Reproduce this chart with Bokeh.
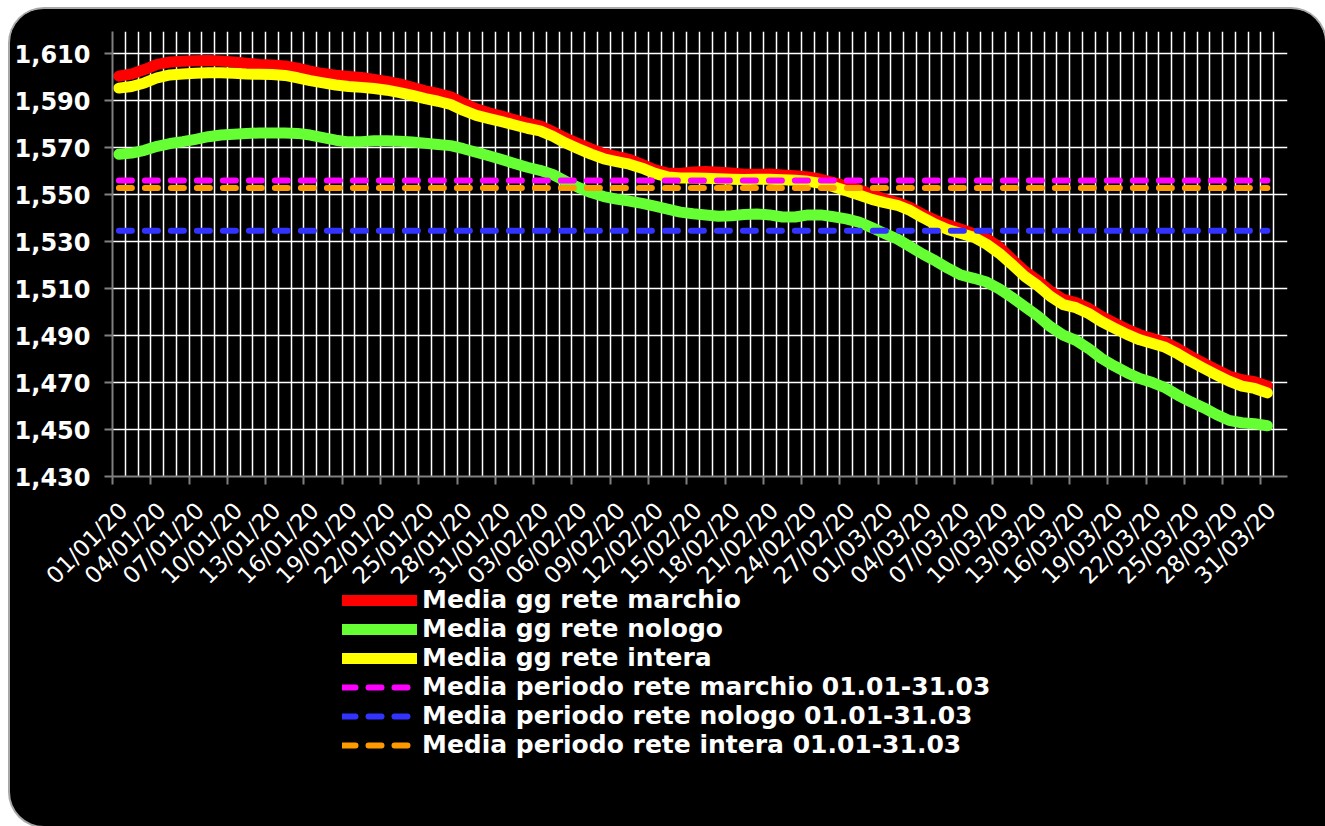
from math import pi
from bokeh.plotting import figure
from bokeh.layouts import column
from bokeh.models import (Range1d, FixedTicker, LinearAxis, NumeralTickFormatter,
                          Legend, LegendItem, Grid)
from bokeh.embed import file_html
from bokeh.resources import INLINE

# ---------------- data ----------------
days = list(range(91))  # 01/01/20 .. 31/03/20

marchio = [1600.5, 1601.4, 1603.3, 1605.5, 1606.5, 1606.8, 1607.0, 1607.1, 1606.9, 1606.5,
           1606.0, 1605.5, 1605.2, 1604.8, 1603.9, 1602.6, 1601.6, 1600.9, 1600.4, 1599.9,
           1599.1, 1598.2, 1597.2, 1595.7, 1594.2, 1593.1, 1591.7, 1589.0, 1586.6, 1584.9,
           1583.5, 1581.9, 1580.5, 1579.3, 1576.9, 1574.1, 1571.8, 1569.5, 1567.5, 1566.3,
           1565.1, 1562.9, 1560.6, 1559.2, 1559.0, 1559.7, 1559.9, 1559.6, 1559.2, 1558.7,
           1558.7, 1558.8, 1558.4, 1558.1, 1557.6, 1556.6, 1555.2, 1553.7, 1552.1, 1550.1,
           1548.1, 1546.7, 1544.6, 1541.6, 1539.1, 1537.1, 1535.3, 1533.4, 1531.3, 1527.7,
           1522.4, 1517.4, 1513.5, 1508.9, 1505.4, 1504.1, 1501.6, 1498.2, 1495.4, 1492.7,
           1490.4, 1488.8, 1487.2, 1484.4, 1481.2, 1478.3, 1475.5, 1472.8, 1471.2, 1470.4,
           1468.6]

nologo = [1567.2, 1567.7, 1568.9, 1570.6, 1571.8, 1572.6, 1573.6, 1574.7, 1575.4, 1575.7,
          1576.1, 1576.3, 1576.3, 1576.3, 1576.1, 1575.4, 1574.3, 1573.2, 1572.5, 1572.6,
          1573.0, 1573.0, 1572.8, 1572.4, 1571.9, 1571.4, 1570.9, 1569.6, 1568.1, 1566.6,
          1565.0, 1563.3, 1561.7, 1560.4, 1558.6, 1555.8, 1553.1, 1550.9, 1549.2, 1548.1,
          1547.3, 1546.3, 1545.1, 1543.9, 1542.6, 1541.9, 1541.4, 1540.8, 1541.0, 1541.6,
          1541.8, 1541.4, 1540.5, 1540.5, 1541.4, 1541.4, 1540.6, 1539.7, 1538.3, 1536.0,
          1533.5, 1531.1, 1527.9, 1524.7, 1521.8, 1518.6, 1515.8, 1514.4, 1512.8, 1509.9,
          1506.2, 1502.3, 1498.4, 1493.8, 1490.2, 1488.0, 1484.5, 1480.3, 1477.1, 1474.2,
          1471.7, 1470.0, 1467.8, 1464.6, 1461.8, 1459.3, 1456.4, 1453.9, 1452.9, 1452.5,
          1451.6]

intera = [1595.4, 1596.1, 1597.6, 1599.8, 1601.0, 1601.4, 1601.7, 1601.9, 1601.9, 1601.7,
          1601.4, 1601.3, 1601.2, 1600.8, 1599.8, 1598.6, 1597.6, 1596.7, 1596.1, 1595.7,
          1595.2, 1594.5, 1593.5, 1592.3, 1590.9, 1589.8, 1588.4, 1585.9, 1583.8, 1582.4,
          1581.1, 1579.7, 1578.3, 1577.2, 1574.9, 1572.0, 1569.6, 1567.3, 1565.3, 1564.1,
          1563.0, 1561.3, 1559.1, 1557.6, 1557.1, 1557.1, 1557.0, 1556.8, 1556.6, 1556.5,
          1556.6, 1556.6, 1556.4, 1556.2, 1555.7, 1554.8, 1553.4, 1551.7, 1549.9, 1548.0,
          1546.6, 1545.5, 1543.3, 1540.2, 1537.4, 1535.1, 1533.5, 1531.9, 1528.9, 1525.0,
          1520.2, 1515.2, 1511.3, 1506.7, 1503.2, 1501.9, 1499.4, 1496.0, 1493.2, 1490.5,
          1488.2, 1486.6, 1485.0, 1482.2, 1479.0, 1476.1, 1473.3, 1470.6, 1468.5, 1467.5,
          1465.6]

media_marchio = 1556.0
media_nologo = 1534.6
media_intera = 1552.9

tick_labels = ["01/01/20", "04/01/20", "07/01/20", "10/01/20", "13/01/20", "16/01/20",
               "19/01/20", "22/01/20", "25/01/20", "28/01/20", "31/01/20", "03/02/20",
               "06/02/20", "09/02/20", "12/02/20", "15/02/20", "18/02/20", "21/02/20",
               "24/02/20", "27/02/20", "01/03/20", "04/03/20", "07/03/20", "10/03/20",
               "13/03/20", "16/03/20", "19/03/20", "22/03/20", "25/03/20", "28/03/20",
               "31/03/20"]
label_days = [0, 3, 6, 9, 12, 15, 18, 21, 24, 27, 30, 33, 36, 39, 42, 45, 48, 51, 54, 57,
              60, 63, 66, 69, 72, 75, 78, 81, 84, 87, 90]
y_ticks = [1430, 1450, 1470, 1490, 1510, 1530, 1550, 1570, 1590, 1610]

names = ["Media gg rete marchio", "Media gg rete nologo", "Media gg rete intera",
         "Media periodo rete marchio 01.01-31.03", "Media periodo rete nologo 01.01-31.03",
         "Media periodo rete intera 01.01-31.03"]
colors = ["#FF0000", "#66FF33", "#FFFF00", "#FF00FF", "#3333FF", "#FF9900"]

FONT = "DejaVu Sans"
solid_kw = dict(line_width=11, line_cap="round", line_join="round")
dash_kw = dict(line_width=6, line_cap="round", line_dash="13 13")

# ---------------- main chart (fixed height: 22 top + 445 frame + 130 bottom) ----------------
p = figure(width=1315, height=597, output_backend="svg", toolbar_location=None,
           x_range=Range1d(-0.5, 91.58), y_range=Range1d(1430, 1619.5),
           x_axis_location=None,
           min_border_left=102, min_border_right=38, min_border_top=22, min_border_bottom=130)
p.background_fill_color = "black"
p.border_fill_color = "black"
p.outline_line_color = None

p.xgrid.visible = False
p.ygrid.visible = False
boundaries = [d - 0.5 for d in range(92)]
p.add_layout(Grid(dimension=0, ticker=FixedTicker(ticks=boundaries),
                  grid_line_color="white", grid_line_width=1.5), "center")
p.add_layout(Grid(dimension=1, ticker=FixedTicker(ticks=y_ticks),
                  grid_line_color="white", grid_line_width=1.5), "center")

ya = p.yaxis[0]
ya.ticker = FixedTicker(ticks=y_ticks)
ya.formatter = NumeralTickFormatter(format="0,0")
ya.major_label_text_font = FONT
ya.major_label_text_font_style = "bold"
ya.major_label_text_font_size = "24px"
ya.major_label_text_color = "white"
ya.axis_line_color = "#808080"
ya.axis_line_width = 2
ya.major_tick_line_color = "#808080"
ya.major_tick_line_width = 2
ya.major_tick_out = 8
ya.major_tick_in = 0
ya.minor_tick_line_color = None
ya.major_label_standoff = 14

ax_ticks = LinearAxis(ticker=FixedTicker(ticks=[d - 0.5 for d in label_days]),
                      axis_line_color="#808080", axis_line_width=2,
                      major_tick_line_color="#808080", major_tick_line_width=2,
                      major_tick_out=8, major_tick_in=0, minor_tick_line_color=None,
                      major_label_text_font_size="1px", major_label_text_alpha=0,
                      major_label_standoff=0)
p.add_layout(ax_ticks, "below")

label_pos = [d + 0.35 for d in label_days]
ax_lab = LinearAxis(ticker=FixedTicker(ticks=label_pos),
                    major_label_overrides={x: t for x, t in zip(label_pos, tick_labels)},
                    axis_line_color=None, major_tick_line_color=None,
                    minor_tick_line_color=None, major_tick_out=0, major_tick_in=0,
                    major_label_orientation=pi / 4, major_label_standoff=22,
                    major_label_text_font=FONT, major_label_text_font_size="23px",
                    major_label_text_color="white")
p.add_layout(ax_lab, "below")

p.line(days, marchio, line_color=colors[0], **solid_kw)
p.line(days, nologo, line_color=colors[1], **solid_kw)
p.line(days, intera, line_color=colors[2], **solid_kw)
p.line(days, [media_marchio] * len(days), line_color=colors[3], **dash_kw)
p.line(days, [media_nologo] * len(days), line_color=colors[4], **dash_kw)
p.line(days, [media_intera] * len(days), line_color=colors[5], **dash_kw)

# ---------------- legend strip (transparent, overlapping the chart's empty bottom) ----------------
q = figure(width=1315, height=244, output_backend="svg", toolbar_location=None,
           x_range=Range1d(0, 1), y_range=Range1d(0, 1),
           x_axis_location=None, y_axis_location=None,
           min_border_left=0, min_border_right=0, min_border_top=0, min_border_bottom=0)
q.background_fill_alpha = 0
q.border_fill_alpha = 0
q.outline_line_color = None
q.grid.visible = False
q.styles = {"margin-top": "-24px"}

# legend swatches: same series, outside this strip's visible ranges
series = [marchio, nologo, intera, [media_marchio] * len(days),
          [media_nologo] * len(days), [media_intera] * len(days)]
proxies = []
for i, (c, s) in enumerate(zip(colors, series)):
    kw = solid_kw if i < 3 else dash_kw
    proxies.append(q.line(days, s, line_color=c, **kw))

legend = Legend(items=[LegendItem(label=n, renderers=[r]) for n, r in zip(names, proxies)],
                location=(230, 67), orientation="vertical",
                background_fill_alpha=0, border_line_color=None,
                label_text_color="white", label_text_font=FONT,
                label_text_font_style="bold", label_text_font_size="25px",
                glyph_width=75, glyph_height=28, label_height=28, label_standoff=5,
                spacing=0, padding=0, margin=0)
q.add_layout(legend, "center")

layout = column(p, q, spacing=0)
layout.styles = {"margin-left": "10px", "margin-top": "9px", "height": "817px",
                 "border-radius": "34px 34px 0 34px", "overflow": "hidden",
                 "box-shadow": "0 0 0 2px #a8a8a8", "background-color": "black"}

open("out.html", "w").write(file_html(layout, INLINE))
